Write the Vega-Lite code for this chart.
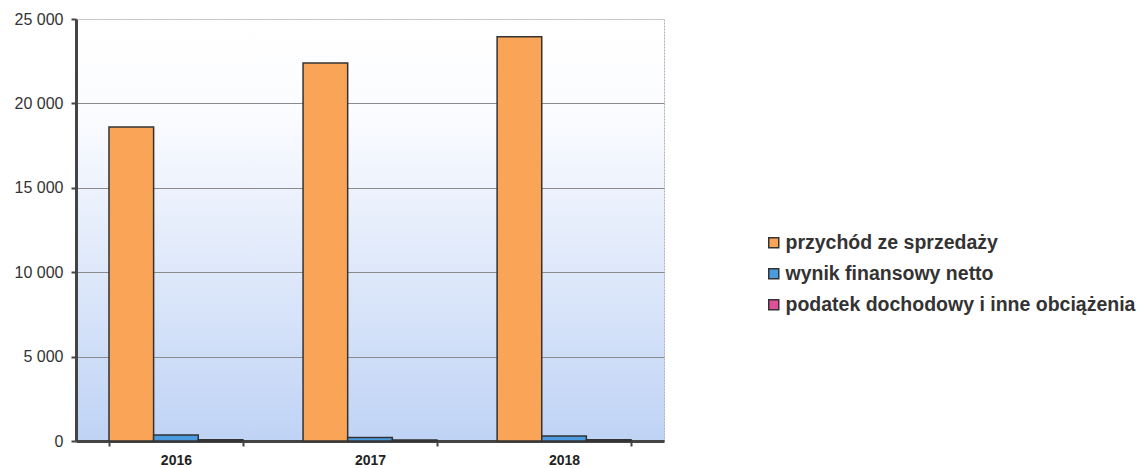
{
  "$schema": "https://vega.github.io/schema/vega-lite/v6.json",
  "width": 588,
  "height": 422,
  "autosize": {"type": "none"},
  "padding": {"left": 76, "top": 19, "right": 473, "bottom": 27},
  "background": "white",
  "config": {
    "font": "Liberation Sans",
    "view": {
      "stroke": "#b0b0b0",
      "strokeDash": [2, 1],
      "strokeWidth": 1,
      "fill": {
        "gradient": "linear",
        "x1": 0, "y1": 0, "x2": 0, "y2": 1,
        "stops": [
          {"offset": 0, "color": "#ffffff"},
          {"offset": 0.22, "color": "#fbfcff"},
          {"offset": 1, "color": "#bfd3f5"}
        ]
      }
    }
  },
  "data": {
    "values": [
      {"rok": "2016", "seria": "przychód ze sprzedaży", "wartosc": 18600},
      {"rok": "2016", "seria": "wynik finansowy netto", "wartosc": 350},
      {"rok": "2016", "seria": "podatek dochodowy i inne obciążenia", "wartosc": 70},
      {"rok": "2017", "seria": "przychód ze sprzedaży", "wartosc": 22400},
      {"rok": "2017", "seria": "wynik finansowy netto", "wartosc": 200},
      {"rok": "2017", "seria": "podatek dochodowy i inne obciążenia", "wartosc": 60},
      {"rok": "2018", "seria": "przychód ze sprzedaży", "wartosc": 23950},
      {"rok": "2018", "seria": "wynik finansowy netto", "wartosc": 300},
      {"rok": "2018", "seria": "podatek dochodowy i inne obciążenia", "wartosc": 80}
    ]
  },
  "mark": {"type": "bar", "stroke": "#333333", "strokeWidth": 1.5, "opacity": 1},
  "encoding": {
    "x": {
      "field": "rok",
      "type": "nominal",
      "title": null,
      "scale": {"paddingInner": 0.31, "paddingOuter": 0.17},
      "axis": {
        "labelAngle": 0,
        "labelFontWeight": "bold",
        "labelFontSize": 14,
        "labelColor": "#222222",
        "labelPadding": 7,
        "domainColor": "#444444",
        "domainWidth": 3,
        "tickColor": "#444444",
        "tickWidth": 2,
        "tickSize": 5,
        "tickBand": "extent",
        "grid": false
      }
    },
    "xOffset": {
      "field": "seria",
      "type": "nominal",
      "sort": ["przychód ze sprzedaży", "wynik finansowy netto", "podatek dochodowy i inne obciążenia"]
    },
    "y": {
      "field": "wartosc",
      "type": "quantitative",
      "title": null,
      "scale": {"domain": [0, 25000], "nice": false},
      "axis": {
        "values": [0, 5000, 10000, 15000, 20000, 25000],
        "labelExpr": "replace(format(datum.value, ','), ',', ' ')",
        "labelFontSize": 16,
        "labelColor": "#333333",
        "labelPadding": 8,
        "domainColor": "#444444",
        "domainWidth": 3,
        "tickColor": "#444444",
        "tickWidth": 2,
        "tickSize": 5,
        "grid": true,
        "gridColor": {"condition": {"test": "datum.value == 25000", "value": "#c0c0c0"}, "value": "#8a8a8a"},
        "gridDash": {"condition": {"test": "datum.value == 25000", "value": [2, 1]}, "value": []},
        "gridWidth": 1
      }
    },
    "color": {
      "field": "seria",
      "type": "nominal",
      "sort": ["przychód ze sprzedaży", "wynik finansowy netto", "podatek dochodowy i inne obciążenia"],
      "scale": {
        "domain": ["przychód ze sprzedaży", "wynik finansowy netto", "podatek dochodowy i inne obciążenia"],
        "range": ["#f9a456", "#4b9be0", "#e0509a"]
      },
      "legend": {
        "title": null,
        "orient": "none",
        "legendX": 688,
        "legendY": 214,
        "symbolType": "square",
        "symbolSize": 100,
        "symbolStrokeColor": "#333333",
        "symbolStrokeWidth": 1.5,
        "symbolOpacity": 1,
        "labelFont": "Liberation Sans",
        "labelFontSize": 19.5,
        "labelFontWeight": "bold",
        "labelColor": "#333333",
        "labelOffset": 2,
        "labelLimit": 450,
        "rowPadding": 10
      }
    }
  }
}
